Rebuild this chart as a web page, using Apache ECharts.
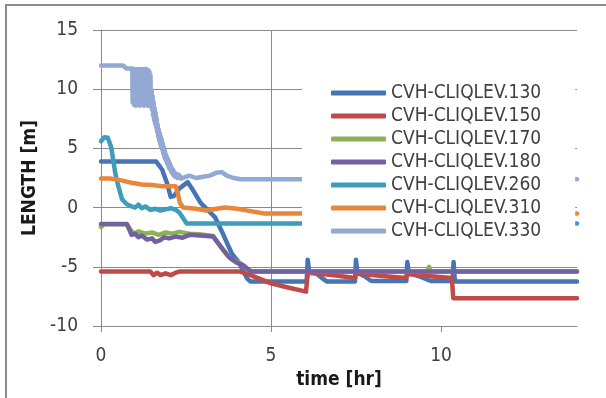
<!DOCTYPE html>
<html><head><meta charset="utf-8">
<script src="https://cdn.jsdelivr.net/npm/echarts@6/dist/echarts.min.js"></script>
<style>html,body{margin:0;padding:0;background:#fff;}#c{width:606px;height:398px;}</style>
</head><body><div id="c"></div>
<script>
const names = ['CVH-CLIQLEV.130','CVH-CLIQLEV.150','CVH-CLIQLEV.170','CVH-CLIQLEV.180','CVH-CLIQLEV.260','CVH-CLIQLEV.310','CVH-CLIQLEV.330'];
const xTicks = [0,5,10];
const s130 = [[0,3.9],[1.62,3.9],[1.8,3.2],[1.95,2.0],[2.05,0.9],[2.15,1.0],[2.3,1.6],[2.55,2.15],[2.7,1.5],[2.93,0.4],[3.35,-0.8],[3.6,-2.3],[3.85,-3.9],[4.05,-4.6],[4.3,-6.0],[4.4,-6.25],[6.05,-6.25],[6.08,-4.4],[6.12,-5.4],[6.3,-5.5],[6.5,-5.95],[6.65,-6.25],[7.47,-6.25],[7.5,-4.4],[7.54,-5.5],[7.75,-5.8],[7.95,-6.2],[8.98,-6.2],[9.01,-4.6],[9.05,-5.5],[9.35,-5.8],[9.7,-6.2],[10.34,-6.2],[10.37,-4.6],[10.41,-6.25],[14,-6.25]];
const s150 = [[0,-5.4],[1.45,-5.4],[1.55,-5.7],[1.65,-5.5],[1.75,-5.7],[1.9,-5.55],[2.05,-5.7],[2.2,-5.5],[2.3,-5.4],[4.1,-5.4],[4.4,-5.7],[5.0,-6.4],[5.5,-6.75],[6.03,-7.1],[6.08,-5.5],[6.8,-5.7],[7.47,-5.95],[7.5,-5.55],[8.2,-5.75],[8.97,-5.95],[9.01,-5.6],[9.7,-5.8],[10.32,-5.95],[10.36,-7.65],[14,-7.65]];
const s170 = [[0,-1.65],[0.1,-1.4],[0.76,-1.4],[0.9,-2.0],[1.0,-2.2],[1.1,-2.0],[1.3,-2.2],[1.5,-2.1],[1.7,-2.3],[1.9,-2.1],[2.1,-2.2],[2.3,-2.05],[2.6,-2.2],[2.9,-2.25],[3.3,-2.4],[3.6,-3.6],[3.85,-4.4],[4.1,-4.7],[4.3,-5.2],[4.45,-5.4],[9.6,-5.4],[9.65,-5.0],[9.7,-5.4],[14,-5.4]];
const s180 = [[0,-1.38],[0.76,-1.38],[0.9,-2.3],[1.0,-2.2],[1.1,-2.5],[1.2,-2.35],[1.35,-2.7],[1.5,-2.6],[1.6,-2.9],[1.75,-2.75],[1.85,-2.5],[2.0,-2.6],[2.2,-2.45],[2.4,-2.55],[2.6,-2.3],[2.9,-2.35],[3.3,-2.45],[3.55,-3.4],[3.75,-4.15],[3.96,-4.6],[4.2,-4.9],[4.4,-5.4],[14,-5.4]];
const s260 = [[0,5.6],[0.1,5.95],[0.2,5.9],[0.3,5.1],[0.42,2.9],[0.52,1.7],[0.62,0.7],[0.75,0.3],[0.9,0.1],[1.0,0.0],[1.1,0.25],[1.2,-0.05],[1.3,0.1],[1.45,-0.2],[1.6,-0.1],[1.75,-0.25],[1.9,-0.15],[2.05,-0.05],[2.2,-0.2],[2.3,-0.4],[2.52,-1.35],[14,-1.35]];
const s310 = [[0,2.45],[0.3,2.45],[0.6,2.3],[0.9,2.1],[1.2,1.95],[1.5,1.9],[1.8,1.8],[2.2,1.8],[2.26,1.2],[2.32,0.4],[2.42,0.0],[2.8,-0.1],[3.1,-0.25],[3.4,-0.1],[3.65,0.0],[4.0,-0.1],[4.4,-0.3],[4.8,-0.5],[14,-0.5]];
const s330 = [[0,12.0],[0.65,12.0],[0.75,11.75],[0.92,11.75],
  [0.93,8.9],[0.945,11.7],[0.96,8.7],[0.975,11.6],[0.99,8.8],[1.005,11.7],[1.02,8.6],[1.035,11.5],[1.05,8.9],[1.065,11.7],[1.08,8.7],[1.095,11.6],[1.11,9.0],[1.125,11.7],[1.14,8.6],[1.155,11.5],[1.17,8.8],[1.185,11.7],[1.2,8.7],[1.215,11.6],[1.23,8.9],[1.245,11.5],[1.26,8.6],[1.275,11.7],[1.29,8.8],[1.305,11.6],[1.32,8.7],[1.335,11.7],[1.35,8.8],[1.365,11.5],[1.38,8.6],[1.395,11.6],[1.41,8.9],[1.425,11.5],[1.44,8.7],[1.455,11.2],
  [1.47,8.6],[1.49,9.9],[1.5,8.3],[1.52,9.4],[1.53,7.8],[1.55,8.9],[1.56,7.4],[1.58,8.4],[1.59,7.1],[1.61,8.0],[1.62,6.8],[1.64,7.5],[1.65,6.4],[1.67,7.0],[1.68,6.0],[1.7,6.6],[1.71,5.7],[1.73,6.3],[1.74,5.4],[1.76,6.0],[1.77,5.1],[1.79,5.7],[1.8,4.9],[1.82,5.4],[1.83,4.6],[1.85,5.1],[1.86,4.3],[1.88,4.8],[1.89,4.1],[1.91,4.5],[1.92,3.9],[1.94,4.3],[1.95,3.7],[1.97,4.1],[1.98,3.5],[2.0,3.9],[2.01,3.3],[2.03,3.7],[2.04,3.2],[2.06,3.5],[2.07,3.0],[2.09,3.3],[2.1,2.9],[2.12,3.2],[2.13,2.75],[2.16,3.0],[2.18,2.6],[2.22,2.85],[2.25,2.5],[2.3,2.75],[2.35,2.45],
  [2.45,2.55],[2.6,2.7],[2.8,2.5],[3.0,2.6],[3.2,2.7],[3.4,2.95],[3.55,3.0],[3.7,2.7],[3.9,2.5],[4.1,2.4],[14,2.4]];
const allData = [s130,s150,s170,s180,s260,s310,s330];
const colors = ['#4674B5','#BE4B48','#8DB255','#7460A0','#3E9DB8','#E8873A','#93A9D3'];

const FONT = '"DejaVu Sans Condensed", "DejaVu Sans", sans-serif';
const chart = echarts.init(document.getElementById('c'), null, {renderer:'canvas'});
chart.setOption({
  animation:false,
  grid:{left:101, right:29, top:30, bottom:72, containLabel:false},
  graphic:[{type:'rect', shape:{x:6, y:5, width:700, height:500}, style:{fill:'none', stroke:'#8c8c8c', lineWidth:2}, z:100}],
  legend:{
    orient:'vertical', left:302, top:80,
    padding:[3.5,34,0,29], backgroundColor:'#fff',
    itemWidth:55, itemHeight:5, itemGap:4, icon:'roundRect',
    textStyle:{fontFamily:FONT, fontSize:19, lineHeight:19, color:'#404040'},
    data:names
  },
  xAxis:{
    type:'value', min:0, max:14, interval:5,
    name:'time [hr]', nameLocation:'middle', nameGap:42,
    nameTextStyle:{fontFamily:FONT, fontSize:19, fontWeight:'bold', color:'#1a1a1a'},
    axisLine:{show:true, onZero:false, lineStyle:{color:'#8a8a8a', width:1}},
    axisTick:{show:true, length:6, customValues:xTicks, lineStyle:{color:'#8a8a8a'}},
    axisLabel:{margin:21, customValues:xTicks, fontFamily:FONT, fontSize:19, color:'#404040'},
    splitLine:{show:true, showMaxLine:false, lineStyle:{color:'#8a8a8a', width:1}}
  },
  yAxis:{
    type:'value', min:-10, max:15, interval:5,
    name:'LENGTH [m]', nameLocation:'middle', nameGap:61,
    nameTextStyle:{fontFamily:FONT, fontSize:19, fontWeight:'bold', color:'#1a1a1a'},
    axisLine:{show:true, lineStyle:{color:'#8a8a8a', width:1}},
    axisTick:{show:true, length:8, lineStyle:{color:'#8a8a8a'}},
    axisLabel:{margin:23, fontFamily:FONT, fontSize:19, color:'#404040'},
    splitLine:{show:true, lineStyle:{color:'#8a8a8a', width:1}}
  },
  series: names.map((n,i)=>({
    name:n, type:'line', data:allData[i], showSymbol:false, symbol:'none',
    color:colors[i], lineStyle:{width:4.5, color:colors[i], cap:'round', join:'round'},
    emphasis:{disabled:true}, z:2+i*0.01
  }))
});
</script></body></html>
